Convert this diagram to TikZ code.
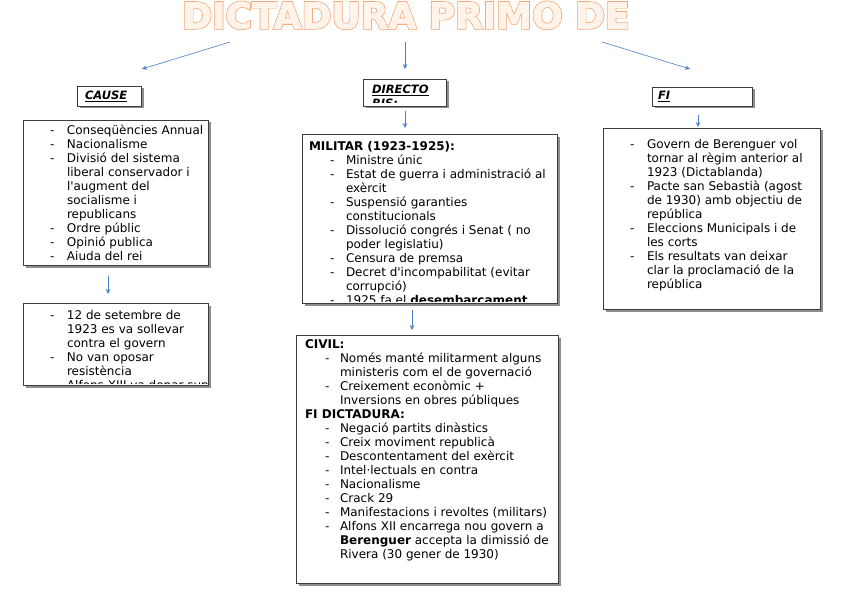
\documentclass[tikz,border=0pt]{standalone}
\usepackage{fontspec}
\setmainfont{DejaVu Sans}
\newfontfamily\bodyfont{DejaVu Sans}
\usetikzlibrary{arrows.meta,shadows}
\definecolor{titleor}{HTML}{F2A06A}
\definecolor{titlein}{HTML}{FFF3EA}
\definecolor{arrblue}{HTML}{4A7EC8}
\definecolor{boxedge}{HTML}{3C3C3C}
\newlength\dA \newlength\dB
\newcommand\Li[1]{\hspace*{\dA}\makebox[\dB][l]{-}#1}
\newcommand\Lc[1]{\hspace*{\dA}\hspace*{\dB}#1}
\tikzset{
  box/.style={draw=boxedge, line width=0.8pt, fill=white, inner sep=0pt, outer sep=0pt, anchor=north west,
    drop shadow={shadow xshift=2.5pt, shadow yshift=-2.5pt, fill=black!55, opacity=0.8}},
  txt/.style={inner sep=0pt, outer sep=0pt, anchor=base west, align=left},
  head/.style={inner sep=0pt, outer sep=0pt, anchor=base west, align=left, font=\bodyfont\fontsize{11.5}{14}\selectfont\bfseries\itshape},
  arr/.style={draw=arrblue, line width=0.6pt, -{Stealth[length=5pt,width=4.5pt]}},
  titlestyle/.style={inner sep=0pt, anchor=base, font=\bodyfont\fontsize{36}{40}\selectfont\bfseries},
}
\begin{document}
\begin{tikzpicture}[x=1pt,y=-1pt]
\useasboundingbox (0,0) rectangle (848,599);
\fill[white] (0,0) rectangle (848,599);
% title (outlined letters)
\node[titlestyle, text=titleor] (title) at (406,28.5)
  {\special{pdf:literal direct 1 Tr 2.2 w}DICTADURA PRIMO DE\special{pdf:literal direct 0 Tr}};
\node[titlestyle, text=titlein] (titleinner) at (406,28.5)
  {\special{pdf:literal direct 2 Tr 0.9 w}DICTADURA PRIMO DE\special{pdf:literal direct 0 Tr}};
% heading boxes
\node[box, minimum width=64, minimum height=20] (causeh) at (77,86) {};
\node[head] (causet) at (85,100) {\underline{CAUSE}};
\node[box, minimum width=83, minimum height=27] (dirh) at (363,79) {};
\begin{scope}
\clip ([yshift=3pt]dirh.south west) rectangle (dirh.north east);
\node[head] (dirt) at (372,108) {\underline{DIRECTO}\\\underline{RIS:}};
\end{scope}
\node[box, minimum width=100, minimum height=19] (fih) at (652,87) {};
\node[head] (fit) at (658,100) {\underline{FI}};
% top arrows
\coordinate (a1s) at (230,42); \coordinate (a1e) at (142,69);
\coordinate (a2s) at (405,42); \coordinate (a2e) at (405,69);
\coordinate (a3s) at (602,42); \coordinate (a3e) at (690,69);
\draw[arr] (a1s) -- (a1e);
\draw[arr] (a2s) -- (a2e);
\draw[arr] (a3s) -- (a3e);
% CAUSE list
\node[box, minimum width=185, minimum height=145] (causelist) at (23,120) {};
\node[txt, font={\bodyfont\fontsize{12}{14}\selectfont\setlength\dA{0pt}\setlength\dB{17pt}}] (causetxt) at (50,260)
 {\Li{Conseqüències Annual}\\ \Li{Nacionalisme}\\ \Li{Divisió del sistema}\\ \Lc{liberal conservador i}\\ \Lc{l\textquotesingle augment del}\\ \Lc{socialisme i}\\ \Lc{republicans}\\ \Li{Ordre públic}\\ \Li{Opinió publica}\\ \Li{Aiuda del rei}};
\coordinate (a4s) at (108,276); \coordinate (a4e) at (108,294);
\draw[arr] (a4s) -- (a4e);
% CAUSE second box
\node[box, minimum width=185, minimum height=82] (coup) at (23,303) {};
\begin{scope}
\clip ([yshift=2pt]coup.south west) rectangle (coup.north east);
\node[txt, font={\bodyfont\fontsize{12}{14}\selectfont\setlength\dA{0pt}\setlength\dB{17pt}}] (couptxt) at (50,389)
 {\Li{12 de setembre de}\\ \Lc{1923 es va sollevar}\\ \Lc{contra el govern}\\ \Li{No van oposar}\\ \Lc{resistència}\\ \Li{Alfons XIII va donar suport}};
\end{scope}
% DIRECTORIS
\coordinate (a5s) at (405,111); \coordinate (a5e) at (405,128);
\draw[arr] (a5s) -- (a5e);
\node[box, minimum width=255, minimum height=169] (milbox) at (302,134) {};
\begin{scope}
\clip ([yshift=2pt]milbox.south west) rectangle (milbox.north east);
\node[txt, font={\bodyfont\fontsize{12}{14}\selectfont\setlength\dA{21pt}\setlength\dB{16pt}}] (miltxt) at (309,304)
 {\textbf{MILITAR (1923-1925):}\\ \Li{Ministre únic}\\ \Li{Estat de guerra i administració al}\\ \Lc{exèrcit}\\ \Li{Suspensió garanties}\\ \Lc{constitucionals}\\ \Li{Dissolució congrés i Senat ( no}\\ \Lc{poder legislatiu)}\\ \Li{Censura de premsa}\\ \Li{Decret d\textquotesingle incompabilitat (evitar}\\ \Lc{corrupció)}\\ \Li{1925 fa el \textbf{desembarcament}}};
\end{scope}
\coordinate (a6s) at (412,310); \coordinate (a6e) at (412,330);
\draw[arr] (a6s) -- (a6e);
\node[box, minimum width=262, minimum height=248] (civbox) at (296,335) {};
\node[txt, font={\bodyfont\fontsize{12}{14}\selectfont\setlength\dA{20pt}\setlength\dB{15pt}}] (civtxt) at (305,558)
 {\textbf{CIVIL:}\\ \Li{Només manté militarment alguns}\\ \Lc{ministeris com el de governació}\\ \Li{Creixement econòmic +}\\ \Lc{Inversions en obres públiques}\\ \textbf{FI DICTADURA:}\\ \Li{Negació partits dinàstics}\\ \Li{Creix moviment republicà}\\ \Li{Descontentament del exèrcit}\\ \Li{Intel·lectuals en contra}\\ \Li{Nacionalisme}\\ \Li{Crack 29}\\ \Li{Manifestacions i revoltes (militars)}\\ \Li{Alfons XII encarrega nou govern a}\\ \Lc{\textbf{Berenguer} accepta la dimissió de}\\ \Lc{Rivera (30 gener de 1930)}};
% FI
\coordinate (a7s) at (698,115); \coordinate (a7e) at (698,127);
\draw[arr] (a7s) -- (a7e);
\node[box, minimum width=217, minimum height=181] (fibox) at (603,128) {};
\node[txt, font={\bodyfont\fontsize{12}{14}\selectfont\setlength\dA{0pt}\setlength\dB{17pt}}] (fitxt) at (630,288)
 {\Li{Govern de Berenguer vol}\\ \Lc{tornar al règim anterior al}\\ \Lc{1923 (Dictablanda)}\\ \Li{Pacte san Sebastià (agost}\\ \Lc{de 1930) amb objectiu de}\\ \Lc{república}\\ \Li{Eleccions Municipals i de}\\ \Lc{les corts}\\ \Li{Els resultats van deixar}\\ \Lc{clar la proclamació de la}\\ \Lc{república}};
\end{tikzpicture}
\end{document}
